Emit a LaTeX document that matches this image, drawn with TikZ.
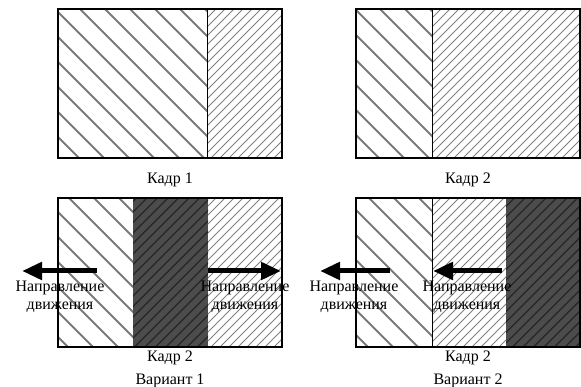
\documentclass[tikz,border=0pt]{standalone}
\usepackage{fontspec}
\setmainfont{Liberation Serif}
\usetikzlibrary{arrows.meta}
\newcommand\HatchWide[4]{%
  \begin{scope}
    \clip (#1,#2) rectangle (#3,#4);
    \foreach \k in {-20,...,22}{\draw[widehatch] ({458+25*\k-400},400) -- ({458+25*\k},0);}
  \end{scope}}
\newcommand\HatchFine[4]{%
  \begin{scope}
    \clip (#1,#2) rectangle (#3,#4);
    \foreach \k in {-45,...,70}{\draw[finehatch] ({9*\k},0) -- ({9*\k+400},400);}
  \end{scope}}
\newcommand\HatchDark[4]{%
  \fill[darkfill] (#1,#2) rectangle (#3,#4);
  \begin{scope}
    \clip (#1,#2) rectangle (#3,#4);
    \foreach \k in {-40,...,60}{\draw[darkhatch] ({10.5*\k},0) -- ({10.5*\k+400},400);}
  \end{scope}}
\begin{document}
\begin{tikzpicture}[x=1pt,y=1pt,
  frame/.style={draw=black,line width=1.7pt},
  divider/.style={draw=black,line width=0.9pt},
  widehatch/.style={draw=black!52,line width=1.8pt},
  finehatch/.style={draw=black!50,line width=1pt},
  darkfill/.style={fill=black!70},
  darkhatch/.style={draw=black!85,line width=1.2pt},
  movearrow/.style={line width=5pt,-{Triangle[length=20pt,width=17pt]}},
  lbl/.style={font=\fontsize{16}{18}\selectfont,align=center,inner sep=0pt},
  caplbl/.style={font=\fontsize{16}{23}\selectfont,align=center,inner sep=0pt}
]
\useasboundingbox (0,0) rectangle (581,387);
% ---- Kadr 1 (top left)
\HatchWide{58}{229}{207}{378}
\HatchFine{207}{229}{282}{378}
\draw[divider] (207,229) -- (207,378);
\draw[frame] (58,229) rectangle (282,378);
\node[lbl] (k1) at (170,207) {Кадр 1};
% ---- Kadr 2 (top right)
\HatchWide{356}{229}{432}{378}
\HatchFine{432}{229}{580}{378}
\draw[divider] (432,229) -- (432,378);
\draw[frame] (356,229) rectangle (580,378);
\node[lbl] (k2) at (468,207) {Кадр 2};
% ---- Variant 1 (bottom left)
\HatchWide{58}{40}{133}{189}
\HatchDark{133}{40}{208}{189}
\HatchFine{208}{40}{282}{189}
\draw[frame] (58,40) rectangle (282,189);
\coordinate (a1s) at (97,116);
\coordinate (a1e) at (22,116);
\coordinate (a2s) at (208,116);
\coordinate (a2e) at (281,116);
\draw[movearrow] (a1s) -- (a1e);
\draw[movearrow] (a2s) -- (a2e);
\node[lbl] (t1) at (60,90) {Направление\\движения};
\node[lbl] (t2) at (245,90) {Направление\\движения};
\node[caplbl] (v1) at (170,18) {Кадр 2\\Вариант 1};
% ---- Variant 2 (bottom right)
\HatchWide{356}{40}{432}{189}
\HatchFine{432}{40}{506}{189}
\HatchDark{506}{40}{580}{189}
\draw[divider] (432,40) -- (432,189);
\draw[frame] (356,40) rectangle (580,189);
\coordinate (a3s) at (390,116);
\coordinate (a3e) at (320,116);
\coordinate (a4s) at (502,116);
\coordinate (a4e) at (433,116);
\draw[movearrow] (a3s) -- (a3e);
\draw[movearrow] (a4s) -- (a4e);
\node[lbl] (t3) at (354,90) {Направление\\движения};
\node[lbl] (t4) at (467,90) {Направление\\движения};
\node[caplbl] (v2) at (468,18) {Кадр 2\\Вариант 2};
\end{tikzpicture}
\end{document}
